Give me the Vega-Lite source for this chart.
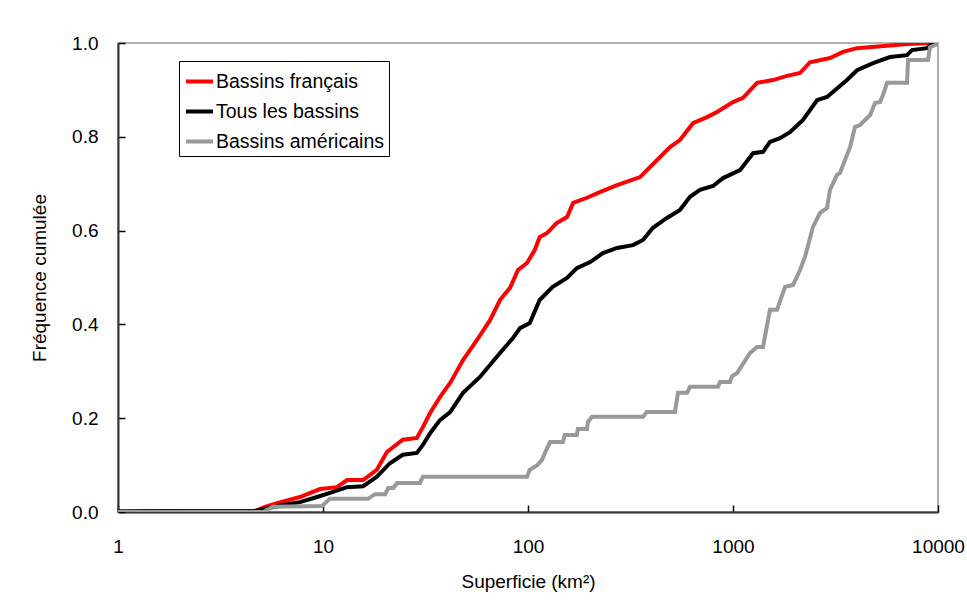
{
  "$schema": "https://vega.github.io/schema/vega-lite/v6.json",
  "width": 820,
  "height": 469,
  "autosize": {"type": "none"},
  "padding": {"left": 118, "top": 43, "right": 29, "bottom": 94},
  "background": "#ffffff",
  "data": {
    "values": [
      {"serie": "Bassins français", "superficie": 1, "frequence": 0.001},
      {"serie": "Bassins français", "superficie": 1.43, "frequence": 0.002},
      {"serie": "Bassins français", "superficie": 4.66, "frequence": 0.002},
      {"serie": "Bassins français", "superficie": 5.21, "frequence": 0.011},
      {"serie": "Bassins français", "superficie": 5.97, "frequence": 0.019},
      {"serie": "Bassins français", "superficie": 7.72, "frequence": 0.032},
      {"serie": "Bassins français", "superficie": 9.67, "frequence": 0.049},
      {"serie": "Bassins français", "superficie": 11.7, "frequence": 0.053},
      {"serie": "Bassins français", "superficie": 13.1, "frequence": 0.068},
      {"serie": "Bassins français", "superficie": 15.7, "frequence": 0.068},
      {"serie": "Bassins français", "superficie": 18.3, "frequence": 0.09},
      {"serie": "Bassins français", "superficie": 20.5, "frequence": 0.128},
      {"serie": "Bassins français", "superficie": 24.5, "frequence": 0.154},
      {"serie": "Bassins français", "superficie": 28.7, "frequence": 0.158},
      {"serie": "Bassins français", "superficie": 30.7, "frequence": 0.181},
      {"serie": "Bassins français", "superficie": 33.3, "frequence": 0.211},
      {"serie": "Bassins français", "superficie": 37.2, "frequence": 0.245},
      {"serie": "Bassins français", "superficie": 41.7, "frequence": 0.275},
      {"serie": "Bassins français", "superficie": 43.1, "frequence": 0.286},
      {"serie": "Bassins français", "superficie": 48.2, "frequence": 0.324},
      {"serie": "Bassins français", "superficie": 56.4, "frequence": 0.367},
      {"serie": "Bassins français", "superficie": 65.3, "frequence": 0.409},
      {"serie": "Bassins français", "superficie": 73.0, "frequence": 0.452},
      {"serie": "Bassins français", "superficie": 81.7, "frequence": 0.478},
      {"serie": "Bassins français", "superficie": 89.4, "frequence": 0.516},
      {"serie": "Bassins français", "superficie": 98.9, "frequence": 0.531},
      {"serie": "Bassins français", "superficie": 108, "frequence": 0.559},
      {"serie": "Bassins français", "superficie": 114, "frequence": 0.586},
      {"serie": "Bassins français", "superficie": 124, "frequence": 0.595},
      {"serie": "Bassins français", "superficie": 138, "frequence": 0.616},
      {"serie": "Bassins français", "superficie": 155, "frequence": 0.629},
      {"serie": "Bassins français", "superficie": 166, "frequence": 0.659},
      {"serie": "Bassins français", "superficie": 194, "frequence": 0.67},
      {"serie": "Bassins français", "superficie": 224, "frequence": 0.682},
      {"serie": "Bassins français", "superficie": 272, "frequence": 0.697},
      {"serie": "Bassins français", "superficie": 352, "frequence": 0.714},
      {"serie": "Bassins français", "superficie": 441, "frequence": 0.757},
      {"serie": "Bassins français", "superficie": 493, "frequence": 0.778},
      {"serie": "Bassins français", "superficie": 551, "frequence": 0.793},
      {"serie": "Bassins français", "superficie": 638, "frequence": 0.829},
      {"serie": "Bassins français", "superficie": 747, "frequence": 0.842},
      {"serie": "Bassins français", "superficie": 836, "frequence": 0.853},
      {"serie": "Bassins français", "superficie": 1000, "frequence": 0.874},
      {"serie": "Bassins français", "superficie": 1119, "frequence": 0.883},
      {"serie": "Bassins français", "superficie": 1310, "frequence": 0.915},
      {"serie": "Bassins français", "superficie": 1567, "frequence": 0.921},
      {"serie": "Bassins français", "superficie": 1834, "frequence": 0.93},
      {"serie": "Bassins français", "superficie": 2123, "frequence": 0.936},
      {"serie": "Bassins français", "superficie": 2375, "frequence": 0.959},
      {"serie": "Bassins français", "superficie": 2973, "frequence": 0.968},
      {"serie": "Bassins français", "superficie": 3440, "frequence": 0.981},
      {"serie": "Bassins français", "superficie": 4028, "frequence": 0.989},
      {"serie": "Bassins français", "superficie": 5640, "frequence": 0.994},
      {"serie": "Bassins français", "superficie": 7063, "frequence": 0.998},
      {"serie": "Bassins français", "superficie": 9462, "frequence": 1.0},
      {"serie": "Bassins français", "superficie": 10000, "frequence": 1.0},
      {"serie": "Tous les bassins", "superficie": 1, "frequence": 0.001},
      {"serie": "Tous les bassins", "superficie": 4.66, "frequence": 0.002},
      {"serie": "Tous les bassins", "superficie": 5.51, "frequence": 0.009},
      {"serie": "Tous les bassins", "superficie": 6.38, "frequence": 0.015},
      {"serie": "Tous les bassins", "superficie": 7.72, "frequence": 0.021},
      {"serie": "Tous les bassins", "superficie": 9.35, "frequence": 0.032},
      {"serie": "Tous les bassins", "superficie": 11.2, "frequence": 0.043},
      {"serie": "Tous les bassins", "superficie": 13.1, "frequence": 0.053},
      {"serie": "Tous les bassins", "superficie": 15.7, "frequence": 0.055},
      {"serie": "Tous les bassins", "superficie": 18.3, "frequence": 0.075},
      {"serie": "Tous les bassins", "superficie": 21.2, "frequence": 0.104},
      {"serie": "Tous les bassins", "superficie": 24.5, "frequence": 0.122},
      {"serie": "Tous les bassins", "superficie": 28.7, "frequence": 0.126},
      {"serie": "Tous les bassins", "superficie": 30.7, "frequence": 0.143},
      {"serie": "Tous les bassins", "superficie": 33.3, "frequence": 0.168},
      {"serie": "Tous les bassins", "superficie": 37.2, "frequence": 0.196},
      {"serie": "Tous les bassins", "superficie": 41.7, "frequence": 0.213},
      {"serie": "Tous les bassins", "superficie": 48.2, "frequence": 0.254},
      {"serie": "Tous les bassins", "superficie": 58.3, "frequence": 0.288},
      {"serie": "Tous les bassins", "superficie": 73.0, "frequence": 0.339},
      {"serie": "Tous les bassins", "superficie": 84.5, "frequence": 0.371},
      {"serie": "Tous les bassins", "superficie": 91.4, "frequence": 0.392},
      {"serie": "Tous les bassins", "superficie": 102, "frequence": 0.403},
      {"serie": "Tous les bassins", "superficie": 114, "frequence": 0.452},
      {"serie": "Tous les bassins", "superficie": 132, "frequence": 0.48},
      {"serie": "Tous les bassins", "superficie": 155, "frequence": 0.499},
      {"serie": "Tous les bassins", "superficie": 173, "frequence": 0.52},
      {"serie": "Tous les bassins", "superficie": 201, "frequence": 0.533},
      {"serie": "Tous les bassins", "superficie": 232, "frequence": 0.552},
      {"serie": "Tous les bassins", "superficie": 272, "frequence": 0.563},
      {"serie": "Tous les bassins", "superficie": 325, "frequence": 0.569},
      {"serie": "Tous les bassins", "superficie": 364, "frequence": 0.58},
      {"serie": "Tous les bassins", "superficie": 407, "frequence": 0.606},
      {"serie": "Tous les bassins", "superficie": 476, "frequence": 0.627},
      {"serie": "Tous les bassins", "superficie": 551, "frequence": 0.644},
      {"serie": "Tous les bassins", "superficie": 617, "frequence": 0.672},
      {"serie": "Tous les bassins", "superficie": 690, "frequence": 0.687},
      {"serie": "Tous les bassins", "superficie": 799, "frequence": 0.695},
      {"serie": "Tous les bassins", "superficie": 894, "frequence": 0.712},
      {"serie": "Tous les bassins", "superficie": 1082, "frequence": 0.729},
      {"serie": "Tous les bassins", "superficie": 1253, "frequence": 0.765},
      {"serie": "Tous les bassins", "superficie": 1401, "frequence": 0.768},
      {"serie": "Tous les bassins", "superficie": 1515, "frequence": 0.789},
      {"serie": "Tous les bassins", "superficie": 1695, "frequence": 0.797},
      {"serie": "Tous les bassins", "superficie": 1897, "frequence": 0.81},
      {"serie": "Tous les bassins", "superficie": 2195, "frequence": 0.836},
      {"serie": "Tous les bassins", "superficie": 2570, "frequence": 0.878},
      {"serie": "Tous les bassins", "superficie": 2875, "frequence": 0.885},
      {"serie": "Tous les bassins", "superficie": 3597, "frequence": 0.921},
      {"serie": "Tous les bassins", "superficie": 4028, "frequence": 0.942},
      {"serie": "Tous les bassins", "superficie": 4820, "frequence": 0.957},
      {"serie": "Tous les bassins", "superficie": 5833, "frequence": 0.97},
      {"serie": "Tous les bassins", "superficie": 7063, "frequence": 0.974},
      {"serie": "Tous les bassins", "superficie": 7468, "frequence": 0.985},
      {"serie": "Tous les bassins", "superficie": 8836, "frequence": 0.989},
      {"serie": "Tous les bassins", "superficie": 9462, "frequence": 1.0},
      {"serie": "Tous les bassins", "superficie": 10000, "frequence": 1.0},
      {"serie": "Bassins américains", "superficie": 1, "frequence": 0},
      {"serie": "Bassins américains", "superficie": 5.1, "frequence": 0},
      {"serie": "Bassins américains", "superficie": 5.7, "frequence": 0.011},
      {"serie": "Bassins américains", "superficie": 9.89, "frequence": 0.013},
      {"serie": "Bassins américains", "superficie": 10.8, "frequence": 0.028},
      {"serie": "Bassins américains", "superficie": 16.6, "frequence": 0.028},
      {"serie": "Bassins américains", "superficie": 17.9, "frequence": 0.038},
      {"serie": "Bassins américains", "superficie": 20.1, "frequence": 0.038},
      {"serie": "Bassins américains", "superficie": 20.8, "frequence": 0.051},
      {"serie": "Bassins américains", "superficie": 22.0, "frequence": 0.051},
      {"serie": "Bassins américains", "superficie": 23.0, "frequence": 0.062},
      {"serie": "Bassins américains", "superficie": 29.7, "frequence": 0.062},
      {"serie": "Bassins américains", "superficie": 30.7, "frequence": 0.075},
      {"serie": "Bassins américains", "superficie": 98.9, "frequence": 0.075},
      {"serie": "Bassins américains", "superficie": 102, "frequence": 0.09},
      {"serie": "Bassins américains", "superficie": 111, "frequence": 0.1},
      {"serie": "Bassins américains", "superficie": 117, "frequence": 0.111},
      {"serie": "Bassins américains", "superficie": 121, "frequence": 0.126},
      {"serie": "Bassins américains", "superficie": 128, "frequence": 0.149},
      {"serie": "Bassins américains", "superficie": 148, "frequence": 0.149},
      {"serie": "Bassins américains", "superficie": 151, "frequence": 0.164},
      {"serie": "Bassins américains", "superficie": 173, "frequence": 0.164},
      {"serie": "Bassins américains", "superficie": 175, "frequence": 0.177},
      {"serie": "Bassins américains", "superficie": 194, "frequence": 0.177},
      {"serie": "Bassins américains", "superficie": 196, "frequence": 0.192},
      {"serie": "Bassins américains", "superficie": 205, "frequence": 0.203},
      {"serie": "Bassins américains", "superficie": 364, "frequence": 0.203},
      {"serie": "Bassins américains", "superficie": 380, "frequence": 0.213},
      {"serie": "Bassins américains", "superficie": 521, "frequence": 0.213},
      {"serie": "Bassins américains", "superficie": 539, "frequence": 0.254},
      {"serie": "Bassins américains", "superficie": 597, "frequence": 0.254},
      {"serie": "Bassins américains", "superficie": 617, "frequence": 0.267},
      {"serie": "Bassins américains", "superficie": 845, "frequence": 0.267},
      {"serie": "Bassins américains", "superficie": 864, "frequence": 0.277},
      {"serie": "Bassins américains", "superficie": 967, "frequence": 0.277},
      {"serie": "Bassins américains", "superficie": 989, "frequence": 0.29},
      {"serie": "Bassins américains", "superficie": 1046, "frequence": 0.296},
      {"serie": "Bassins américains", "superficie": 1211, "frequence": 0.339},
      {"serie": "Bassins américains", "superficie": 1310, "frequence": 0.352},
      {"serie": "Bassins américains", "superficie": 1401, "frequence": 0.352},
      {"serie": "Bassins américains", "superficie": 1515, "frequence": 0.431},
      {"serie": "Bassins américains", "superficie": 1640, "frequence": 0.431},
      {"serie": "Bassins américains", "superficie": 1795, "frequence": 0.48},
      {"serie": "Bassins américains", "superficie": 1963, "frequence": 0.484},
      {"serie": "Bassins américains", "superficie": 2123, "frequence": 0.516},
      {"serie": "Bassins américains", "superficie": 2245, "frequence": 0.544},
      {"serie": "Bassins américains", "superficie": 2456, "frequence": 0.608},
      {"serie": "Bassins américains", "superficie": 2657, "frequence": 0.638},
      {"serie": "Bassins américains", "superficie": 2875, "frequence": 0.648},
      {"serie": "Bassins américains", "superficie": 2973, "frequence": 0.687},
      {"serie": "Bassins américains", "superficie": 3215, "frequence": 0.719},
      {"serie": "Bassins américains", "superficie": 3325, "frequence": 0.723},
      {"serie": "Bassins américains", "superficie": 3722, "frequence": 0.778},
      {"serie": "Bassins américains", "superficie": 3937, "frequence": 0.821},
      {"serie": "Bassins américains", "superficie": 4166, "frequence": 0.825},
      {"serie": "Bassins américains", "superficie": 4406, "frequence": 0.836},
      {"serie": "Bassins américains", "superficie": 4661, "frequence": 0.846},
      {"serie": "Bassins américains", "superficie": 4931, "frequence": 0.872},
      {"serie": "Bassins américains", "superficie": 5214, "frequence": 0.874},
      {"serie": "Bassins américains", "superficie": 5393, "frequence": 0.889},
      {"serie": "Bassins américains", "superficie": 5640, "frequence": 0.915},
      {"serie": "Bassins américains", "superficie": 7063, "frequence": 0.915},
      {"serie": "Bassins américains", "superficie": 7143, "frequence": 0.964},
      {"serie": "Bassins américains", "superficie": 8935, "frequence": 0.964},
      {"serie": "Bassins américains", "superficie": 9141, "frequence": 0.991},
      {"serie": "Bassins américains", "superficie": 10000, "frequence": 0.998}
    ]
  },
  "mark": {"type": "line", "strokeWidth": 4, "clip": true, "interpolate": "linear"},
  "encoding": {
    "x": {
      "field": "superficie",
      "type": "quantitative",
      "scale": {"type": "log", "domain": [1, 10000], "nice": false},
      "axis": {
        "title": "Superficie (km²)",
        "values": [1, 10, 100, 1000, 10000],
        "format": "d",
        "labelFlush": false,
        "labelOverlap": false,
        "labelBound": false,
        "tickSize": -7,
        "labelPadding": 32,
        "titlePadding": 16
      }
    },
    "y": {
      "field": "frequence",
      "type": "quantitative",
      "scale": {"domain": [0, 1], "nice": false},
      "axis": {
        "title": "Fréquence cumulée",
        "values": [0, 0.2, 0.4, 0.6, 0.8, 1.0],
        "format": ".1f",
        "labelFlush": false,
        "tickSize": -7,
        "labelPadding": 27,
        "titlePadding": 22
      }
    },
    "color": {
      "field": "serie",
      "type": "nominal",
      "scale": {
        "domain": ["Bassins français", "Tous les bassins", "Bassins américains"],
        "range": ["#ff0000", "#000000", "#999999"]
      },
      "legend": {
        "title": null,
        "orient": "none",
        "legendX": 61,
        "legendY": 18,
        "strokeColor": "#000000",
        "fillColor": "#ffffff",
        "padding": 5,
        "symbolType": "stroke",
        "symbolStrokeWidth": 4,
        "symbolSize": 729,
        "rowPadding": 5,
        "labelFontSize": 19.5,
        "labelLimit": 400,
        "labelFont": "Liberation Sans, Arial",
        "labelColor": "#000000",
        "labelOffset": 1
      }
    },
    "order": {"field": "serie", "type": "nominal"}
  },
  "config": {
    "font": "Liberation Sans, Arial",
    "view": {"stroke": "#999999", "strokeWidth": 1.5},
    "axis": {
      "grid": false,
      "domainColor": "#333333",
      "domainWidth": 2,
      "tickColor": "#000000",
      "tickWidth": 1.5,
      "labelFont": "Liberation Sans, Arial",
      "labelFontSize": 19,
      "labelColor": "#000000",
      "titleFont": "Liberation Sans, Arial",
      "titleFontSize": 19,
      "titleFontWeight": "normal",
      "titleColor": "#000000"
    }
  }
}
